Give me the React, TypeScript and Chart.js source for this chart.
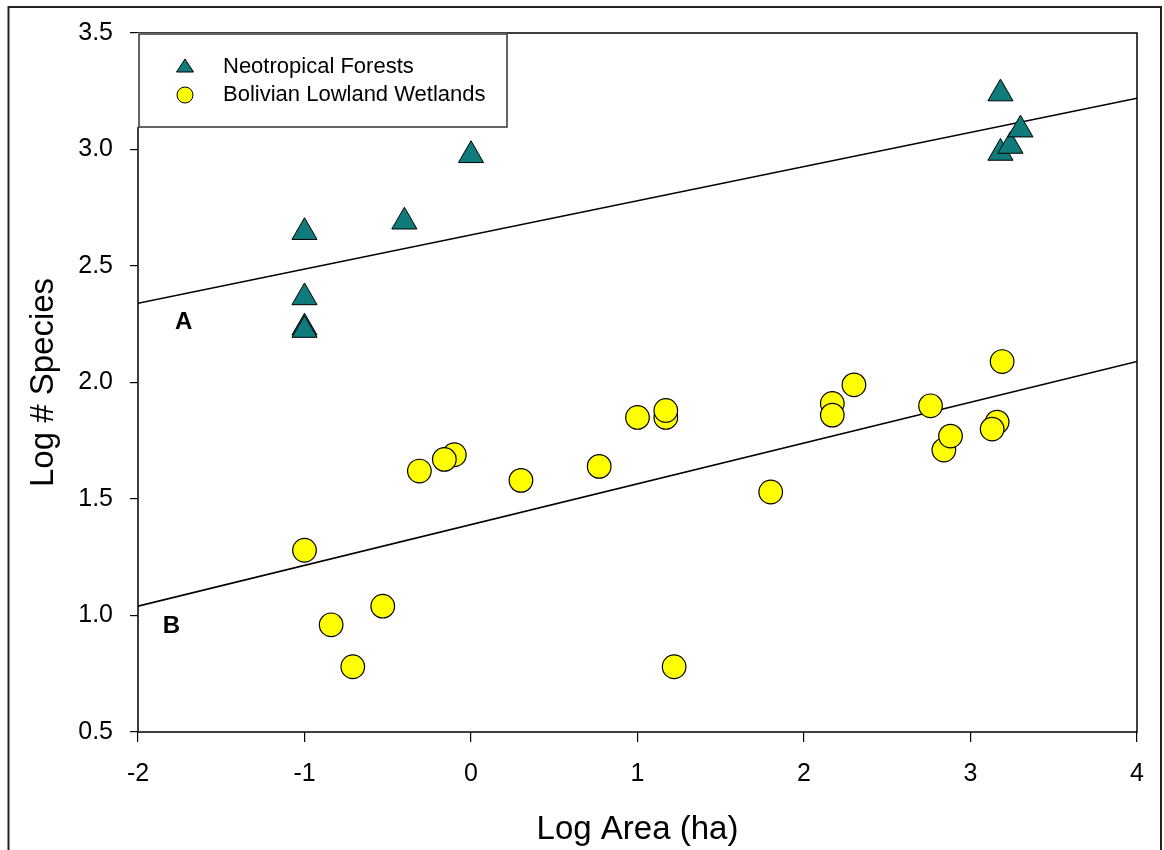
import React, { useEffect, useRef } from 'react';
import { Chart, registerables } from 'chart.js';

Chart.register(...registerables);

// ---- Data ----
const forestLabel = 'Neotropical Forests';
const forestX = [-1, -1, -1, -1, -0.4, 0, 3.18, 3.18, 3.24, 3.3];
const forestY = [2.645, 2.365, 2.235, 2.225, 2.69, 2.975, 3.24, 2.985, 3.015, 3.085];

const wetLabel = 'Bolivian Lowland Wetlands';
const wetX = [-1, -0.84, -0.71, -0.53, -0.31, -0.1, -0.16, 0.3, 0.77, 1.0, 1.17, 1.17, 1.22, 1.8, 2.17, 2.17, 2.3, 2.76, 2.84, 2.88, 3.16, 3.13, 3.19];
const wetY = [1.28, 0.96, 0.78, 1.04, 1.62, 1.69, 1.67, 1.58, 1.64, 1.85, 1.85, 1.88, 0.78, 1.53, 1.91, 1.86, 1.99, 1.9, 1.71, 1.77, 1.83, 1.8, 2.09];

const lineAX = [-2, 4];
const lineAY = [2.34, 3.22];
const lineBX = [-2, 4];
const lineBY = [1.04, 2.09];

const annotText = ['A', 'B'];
const annotX = [-1.725, -1.8];
const annotY = [2.26, 0.953];

const xTitle = 'Log Area (ha)';
const yTitle = 'Log # Species';
const xMin = -2, xMax = 4, xStep = 1;
const yMin = 0.5, yMax = 3.5, yStep = 0.5;

const FONT = '"Liberation Sans", Arial, Helvetica, sans-serif';
const TEAL = '#0f7b7b';
const YELLOW = '#ffff00';

const pts = (xs: number[], ys: number[]) => xs.map((x, i) => ({ x, y: ys[i] }));

const decorPlugin = {
  id: 'decor',
  beforeDatasetsDraw(chart: any) {
    const { ctx, chartArea: a } = chart;
    ctx.save();
    ctx.strokeStyle = '#000';
    ctx.lineWidth = 1.5;
    ctx.strokeRect(a.left, a.top, a.right - a.left, a.bottom - a.top);
    ctx.restore();
  },
  afterDraw(chart: any) {
    const { ctx, chartArea: a } = chart;
    const xs = chart.scales.x;
    const ys = chart.scales.y;
    ctx.save();
    // annotation letters
    ctx.fillStyle = '#000';
    ctx.font = `bold 24px ${FONT}`;
    ctx.textAlign = 'center';
    ctx.textBaseline = 'middle';
    annotText.forEach((t, i) => {
      ctx.fillText(t, xs.getPixelForValue(annotX[i]), ys.getPixelForValue(annotY[i]));
    });

    // legend box
    const bx = a.left + 1, by = 34, bw = 507 - bx, bh = 127 - by;
    ctx.fillStyle = '#fff';
    ctx.fillRect(bx - 2, by - 1, bw + 2, bh + 1);
    ctx.strokeStyle = '#333';
    ctx.lineWidth = 1.5;
    ctx.strokeRect(bx, by, bw, bh);

    // legend items
    const mx = 185;
    // triangle
    const ty = 67;
    ctx.beginPath();
    ctx.moveTo(mx, ty - 8);
    ctx.lineTo(mx + 8.5, ty + 5);
    ctx.lineTo(mx - 8.5, ty + 5);
    ctx.closePath();
    ctx.fillStyle = TEAL;
    ctx.fill();
    ctx.strokeStyle = '#000';
    ctx.lineWidth = 1;
    ctx.stroke();
    // circle
    const cy = 95;
    ctx.beginPath();
    ctx.arc(mx, cy, 8, 0, Math.PI * 2);
    ctx.fillStyle = YELLOW;
    ctx.fill();
    ctx.stroke();

    ctx.fillStyle = '#000';
    ctx.font = `22px ${FONT}`;
    ctx.textAlign = 'left';
    ctx.textBaseline = 'middle';
    ctx.fillText(forestLabel, 223, ty);
    ctx.fillText(wetLabel, 223, cy);

    // outer frame
    ctx.strokeStyle = '#222';
    ctx.lineWidth = 2;
    ctx.strokeRect(8.5, 7, 1152.5, 900);
    ctx.restore();
  },
};

export default function App() {
  const ref = useRef<HTMLCanvasElement | null>(null);

  useEffect(() => {
    if (!ref.current) return;
    const chart = new Chart(ref.current, {
      type: 'scatter',
      data: {
        datasets: [
          {
            label: 'A fit',
            data: pts(lineAX, lineAY),
            showLine: true,
            pointRadius: 0,
            borderColor: '#000',
            borderWidth: 1.6,
            order: 3,
          },
          {
            label: 'B fit',
            data: pts(lineBX, lineBY),
            showLine: true,
            pointRadius: 0,
            borderColor: '#000',
            borderWidth: 1.6,
            order: 3,
          },
          {
            label: forestLabel,
            data: pts(forestX, forestY),
            pointStyle: 'triangle',
            pointRadius: 14.5,
            backgroundColor: TEAL,
            borderColor: '#000',
            borderWidth: 1,
            order: 1,
          },
          {
            label: wetLabel,
            data: pts(wetX, wetY),
            pointStyle: 'circle',
            pointRadius: 11.8,
            backgroundColor: YELLOW,
            borderColor: '#000',
            borderWidth: 1.2,
            order: 2,
          },
        ],
      },
      options: {
        animation: false,
        responsive: false,
        devicePixelRatio: 1,
        events: [],
        layout: { padding: { top: 33, right: 27, left: 0, bottom: 0 } },
        plugins: {
          legend: { display: false },
          tooltip: { enabled: false },
        },
        scales: {
          x: {
            type: 'linear',
            min: xMin,
            max: xMax,
            afterFit: (s: any) => { s.height = 118; },
            ticks: {
              stepSize: xStep,
              padding: 17,
              color: '#000',
              font: { family: FONT, size: 25 },
              callback: (v: any) => String(v),
            },
            grid: { drawOnChartArea: false, drawTicks: true, tickLength: 10, color: '#000', lineWidth: 1.2 },
            border: { display: false },
            title: {
              display: true,
              text: xTitle,
              color: '#000',
              font: { family: FONT, size: 33 },
              padding: { top: 0, bottom: 0 },
            },
          },
          y: {
            type: 'linear',
            min: yMin,
            max: yMax,
            afterFit: (s: any) => { s.width = 138; },
            ticks: {
              stepSize: yStep,
              padding: 17,
              color: '#000',
              font: { family: FONT, size: 25 },
              callback: (v: any) => Number(v).toFixed(1),
            },
            grid: { drawOnChartArea: false, drawTicks: true, tickLength: 8, color: '#000', lineWidth: 1.2 },
            border: { display: false },
            title: {
              display: true,
              text: yTitle,
              color: '#000',
              font: { family: FONT, size: 33 },
              padding: { top: 24, bottom: 0 },
            },
          },
        },
      },
      plugins: [decorPlugin],
    } as any);
    return () => chart.destroy();
  }, []);

  return (
    <div style={{ position: 'absolute', left: 0, top: 0, width: 1164, height: 850, background: '#fff' }}>
      <canvas ref={ref} width={1164} height={850} style={{ display: 'block' }} />
    </div>
  );
}
